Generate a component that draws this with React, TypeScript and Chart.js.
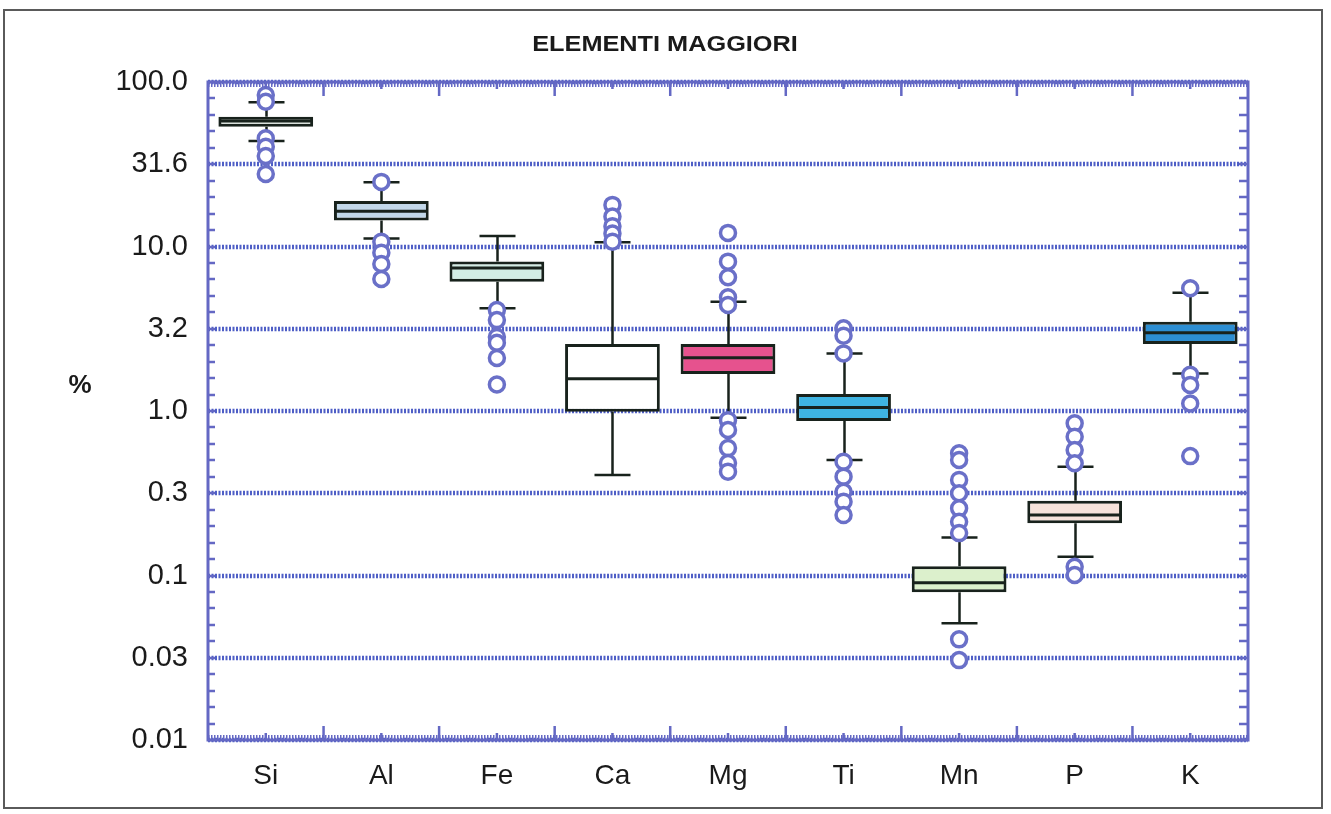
import React, { useEffect, useRef } from 'react';
import { Chart, registerables } from 'chart.js';

Chart.register(...registerables);

// ---- data ----
const elements = ['Si', 'Al', 'Fe', 'Ca', 'Mg', 'Ti', 'Mn', 'P', 'K'];
const q1 = [53.5, 14.4, 6.1, 0.99, 1.68, 0.87, 0.079, 0.208, 2.55];
const q3 = [61.5, 18.9, 8.1, 2.55, 2.55, 1.27, 0.114, 0.285, 3.49];
const medians = [57.9, 16.4, 7.4, 1.57, 2.11, 1.05, 0.0904, 0.233, 2.99];
const whiskerLow = [43.8, 11.2, 4.21, 0.408, 0.91, 0.504, 0.0512, 0.13, 1.69];
const whiskerHigh = [75.3, 24.6, 11.6, 10.6, 4.62, 2.24, 0.17, 0.458, 5.24];

const outSi = [83.3, 75.9, 45.5, 40.4, 35.5, 27.6];
const outAl = [24.7, 10.7, 9.17, 7.83, 6.34];
const outFe = [4.11, 3.57, 2.82, 2.6, 2.1, 1.45];
const outCa = [17.9, 15.2, 13.3, 12.0, 10.7];
const outMg = [12.1, 8.09, 6.5, 4.91, 4.41, 0.88, 0.766, 0.595, 0.483, 0.428];
const outTi = [3.18, 2.87, 2.24, 0.492, 0.399, 0.323, 0.281, 0.233];
const outMn = [0.553, 0.504, 0.381, 0.316, 0.256, 0.212, 0.181, 0.0409, 0.0306];
const outP = [0.841, 0.698, 0.579, 0.481, 0.113, 0.1007];
const outK = [5.57, 1.66, 1.44, 1.11, 0.532];
const outliers = [outSi, outAl, outFe, outCa, outMg, outTi, outMn, outP, outK];

const tickValues = [0.01, 0.0316, 0.1, 0.316, 1, 3.16, 10, 31.6, 100];
const tickLabels = ['0.01', '0.03', '0.1', '0.3', '1.0', '3.2', '10.0', '31.6', '100.0'];

const boxFill = ['#e2eae4', '#c2d8ea', '#d2ece4', '#ffffff', '#e6528e', '#3eb4e2', '#dcf0cc', '#f6e2da', '#2c8ed2'];

const TITLE = 'ELEMENTI MAGGIORI';
const Y_TITLE = '%';

const FONT = '"Liberation Sans", Arial, sans-serif';
const AXIS_COLOR = '#6468c4';
const GRID_COLOR = '#4e5ec6';
const BOX_LINE = '#18221c';

const boxPlugin = {
  id: 'boxExtras',
  beforeDatasetsDraw(chart: any) {
    const { ctx, chartArea: a, scales } = chart;
    const y = scales.y;
    ctx.save();
    ctx.strokeStyle = GRID_COLOR;
    ctx.lineWidth = 4.5;
    ctx.setLineDash([2, 1.5]);
    tickValues.forEach((v) => {
      const py = Math.round(y.getPixelForValue(v));
      ctx.beginPath();
      ctx.moveTo(a.left, py);
      ctx.lineTo(a.right, py);
      ctx.stroke();
    });
    ctx.restore();
  },
  afterDatasetDraw(chart: any, args: any) {
    if (args.index !== 0) return;
    const { ctx, scales } = chart;
    const y = scales.y;
    const meta = chart.getDatasetMeta(0);
    ctx.save();
    meta.data.forEach((bar: any, i: number) => {
      const cx = Math.round(bar.x) + 0.5;
      const w = bar.width;
      const yTop = y.getPixelForValue(q3[i]);
      const yBot = y.getPixelForValue(q1[i]);
      const yHi = y.getPixelForValue(whiskerHigh[i]);
      const yLo = y.getPixelForValue(whiskerLow[i]);
      const yMed = y.getPixelForValue(medians[i]);
      ctx.strokeStyle = BOX_LINE;
      ctx.lineWidth = 2.5;
      ctx.beginPath();
      ctx.moveTo(cx, yTop);
      ctx.lineTo(cx, yHi);
      ctx.moveTo(cx, yBot);
      ctx.lineTo(cx, yLo);
      ctx.moveTo(cx - 18, yHi);
      ctx.lineTo(cx + 18, yHi);
      ctx.moveTo(cx - 18, yLo);
      ctx.lineTo(cx + 18, yLo);
      ctx.stroke();
      ctx.lineWidth = 3;
      ctx.beginPath();
      ctx.moveTo(bar.x - w / 2 + 1, yMed);
      ctx.lineTo(bar.x + w / 2 - 1, yMed);
      ctx.stroke();
    });
    ctx.restore();
  },
  afterDraw(chart: any) {
    const { ctx, chartArea: a, scales } = chart;
    const x = scales.x;
    const y = scales.y;
    ctx.save();
    // outer figure border
    ctx.strokeStyle = '#5a5a5a';
    ctx.lineWidth = 2;
    ctx.strokeRect(4, 10, 1318, 798);

    // frame fuzz (dense small ticks along axes)
    ctx.strokeStyle = AXIS_COLOR;
    ctx.setLineDash([1.5, 1.5]);
    ctx.lineWidth = 4;
    ctx.beginPath();
    ctx.moveTo(a.left, a.top + 3);
    ctx.lineTo(a.right, a.top + 3);
    ctx.moveTo(a.left, a.bottom - 3);
    ctx.lineTo(a.right, a.bottom - 3);
    ctx.stroke();
    ctx.setLineDash([]);

    // frame
    ctx.lineWidth = 3;
    ctx.strokeRect(a.left, a.top, a.right - a.left, a.bottom - a.top);

    // x ticks: long at category boundaries, short at centres
    ctx.lineWidth = 2.5;
    ctx.beginPath();
    elements.forEach((_, i) => {
      const c = x.getPixelForValue(i);
      ctx.moveTo(c, a.bottom);
      ctx.lineTo(c, a.bottom - 7);
      ctx.moveTo(c, a.top);
      ctx.lineTo(c, a.top + 7);
      if (i < elements.length - 1) {
        const b = (c + x.getPixelForValue(i + 1)) / 2;
        ctx.moveTo(b, a.bottom);
        ctx.lineTo(b, a.bottom - 14);
        ctx.moveTo(b, a.top);
        ctx.lineTo(b, a.top + 14);
      }
    });
    // y minor ticks every 0.1 decade
    for (let k = -20; k <= 20; k++) {
      const py = Math.round(y.getPixelForValue(Math.pow(10, k / 10)));
      ctx.moveTo(a.left, py);
      ctx.lineTo(a.left + 7, py);
      ctx.moveTo(a.right, py);
      ctx.lineTo(a.right - 9, py);
    }
    ctx.stroke();

    // title (slightly stretched horizontally like the original print)
    ctx.fillStyle = '#1a1a1a';
    ctx.textAlign = 'center';
    ctx.textBaseline = 'middle';
    ctx.save();
    ctx.translate(665, 45);
    ctx.scale(1.15, 1);
    ctx.font = 'bold 22px ' + FONT;
    ctx.fillText(TITLE, 0, 0);
    ctx.restore();
    ctx.font = 'bold 26px ' + FONT;
    ctx.fillText(Y_TITLE, 80, 386);
    ctx.restore();
  },
};

export default function App() {
  const ref = useRef<HTMLCanvasElement>(null);
  useEffect(() => {
    if (!ref.current) return;
    const outlierPoints = outliers.flatMap((arr, i) => arr.map((v) => ({ x: elements[i], y: v })));
    const chart = new Chart(ref.current, {
      type: 'bar',
      data: {
        labels: elements,
        datasets: [
          {
            type: 'bar',
            data: elements.map((_, i) => [q1[i], q3[i]]) as any,
            backgroundColor: boxFill,
            borderColor: BOX_LINE,
            borderWidth: 3,
            borderSkipped: false,
            barPercentage: 0.82,
            categoryPercentage: 1,
            order: 2,
          } as any,
          {
            type: 'line',
            data: outlierPoints as any,
            showLine: false,
            pointRadius: 7.5,
            pointBorderWidth: 3.5,
            pointBorderColor: '#6a70c8',
            pointBackgroundColor: '#ffffff',
            order: 1,
          } as any,
        ],
      },
      options: {
        animation: false,
        responsive: false,
        maintainAspectRatio: false,
        layout: { padding: { left: 0, top: 82, right: 83, bottom: 0 } },
        plugins: {
          legend: { display: false },
          tooltip: { enabled: false },
          title: { display: false },
        },
        scales: {
          x: {
            grid: { display: false, drawTicks: false },
            border: { display: false },
            ticks: { font: { family: FONT, size: 28 }, color: '#1a1a1a', padding: 19 },
            afterFit: (s: any) => {
              s.height = 74;
            },
          },
          y: {
            type: 'logarithmic',
            min: 0.01,
            max: 100,
            grid: { display: false, drawTicks: false },
            border: { display: false },
            afterBuildTicks: (s: any) => {
              s.ticks = tickValues.map((v) => ({ value: v }));
            },
            ticks: {
              autoSkip: false,
              font: { family: FONT, size: 29 },
              color: '#1a1a1a',
              padding: 20,
              callback: (_v: any, i: number) => tickLabels[i],
            },
            afterFit: (s: any) => {
              s.width = 208;
            },
          },
        },
      } as any,
      plugins: [boxPlugin],
    });
    return () => chart.destroy();
  }, []);
  return (
    <div style={{ position: 'absolute', left: 0, top: 0, width: 1331, height: 814, background: '#ffffff' }}>
      <canvas ref={ref} width={1331} height={814} style={{ display: 'block' }} />
    </div>
  );
}
